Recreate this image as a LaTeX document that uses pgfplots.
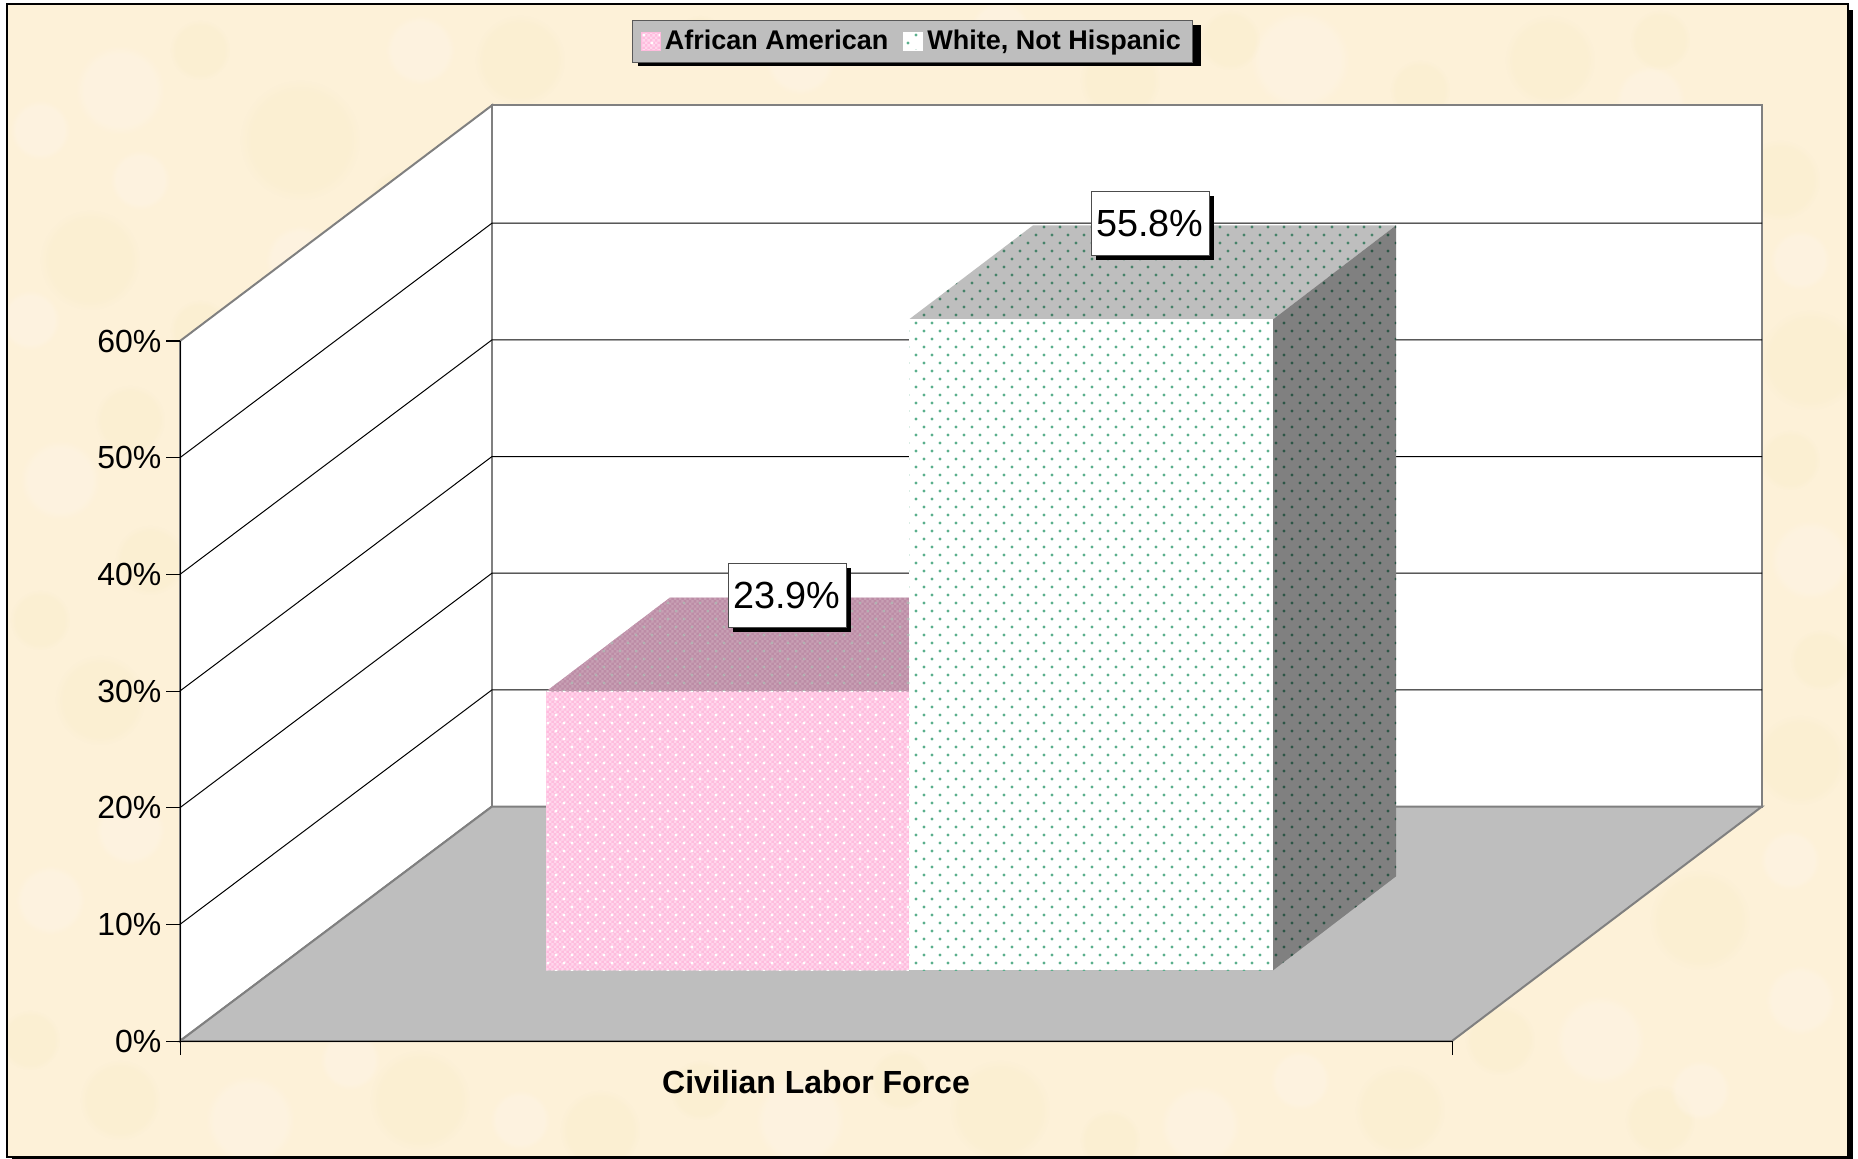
\documentclass[border=0pt]{standalone}
\usepackage{fontspec}
\setmainfont{Liberation Sans}
\usepackage{pgfplots}
\pgfplotsset{compat=1.18}
\usetikzlibrary{patterns,fadings,shadows}
\definecolor{parch}{RGB}{253,241,216}
\definecolor{parchL}{RGB}{255,245,232}
\definecolor{parchD}{RGB}{249,237,203}
\definecolor{pk}{RGB}{255,188,222}
\definecolor{pkL}{RGB}{255,215,236}
\definecolor{pktop}{RGB}{188,140,166}
\definecolor{pktopL}{RGB}{200,160,180}
\definecolor{floorc}{RGB}{190,190,190}
\definecolor{sidec}{RGB}{128,128,128}
\definecolor{edge}{RGB}{128,128,128}
\definecolor{grn}{RGB}{90,175,140}
\definecolor{grntop}{RGB}{70,130,105}
\definecolor{grnside}{RGB}{45,85,70}
\pgfdeclarepatternformonly{stagdots}{\pgfpoint{-1pt}{-1pt}}{\pgfpoint{9pt}{9pt}}{\pgfpoint{8pt}{8pt}}{%
  \pgfpathcircle{\pgfpoint{2pt}{2pt}}{0.85pt}%
  \pgfpathcircle{\pgfpoint{6pt}{6pt}}{0.85pt}%
  \pgfusepath{fill}}
\pgfdeclarepatternformonly{checker}{\pgfpoint{0pt}{0pt}}{\pgfpoint{2.67pt}{2.67pt}}{\pgfpoint{2.67pt}{2.67pt}}{%
  \pgfpathrectangle{\pgfpoint{0pt}{0pt}}{\pgfpoint{1.33pt}{1.33pt}}%
  \pgfpathrectangle{\pgfpoint{1.33pt}{1.33pt}}{\pgfpoint{1.33pt}{1.33pt}}%
  \pgfusepath{fill}}
\begin{document}
\begin{tikzpicture}
\useasboundingbox (0,-579.5pt) rectangle (929pt,0);
\begin{scope}[x=0.5pt,y=-0.5pt]
  \fill[black] (12,10) rectangle (1853,1159);
  \fill[parch] (7,4) rectangle (1848,1157);
  \begin{scope}
    \clip (8,5) rectangle (1847,1156);
    \foreach \x/\y/\r/\c in {
      120/90/45/parchL, 300/140/60/parchD, 520/60/45/parchD, 90/260/50/parchD,
      60/480/40/parchL, 100/700/45/parchD, 50/900/35/parchL, 120/1100/40/parchD,
      250/1120/45/parchL, 420/1100/50/parchD, 600/1130/40/parchD, 800/1120/45/parchL,
      1000/1110/50/parchD, 1200/1125/40/parchL, 1400/1110/45/parchD, 1600/1040/45/parchL,
      1700/920/50/parchD, 1800/760/45/parchD, 1810/560/40/parchL, 1810/360/50/parchD,
      1780/180/40/parchD, 1550/60/45/parchD, 1300/60/50/parchL, 1120/80/40/parchD,
      800/60/35/parchL, 200/50/30/parchD, 1650/100/35/parchL, 40/130/30/parchL,
      130/420/35/parchD, 140/180/30/parchL, 1660/1120/35/parchD, 1500/900/35/parchL,
      30/320/30/parchL, 150/560/35/parchD, 40/620/30/parchD, 130/830/35/parchL,
      30/1040/30/parchD, 350/1060/30/parchL, 520/1120/30/parchL, 700/1090/30/parchD,
      900/1080/30/parchD, 1110/1140/30/parchD, 1300/1080/30/parchL, 1500/1040/35/parchD,
      1700/1090/30/parchL, 1800/1000/35/parchL, 1620/820/35/parchD, 1790/860/30/parchL,
      1820/660/30/parchD, 1790/460/30/parchD, 1800/260/30/parchL, 1660/40/30/parchD,
      1420/90/30/parchD, 1230/40/30/parchD, 1000/30/30/parchL, 700/40/25/parchD,
      420/50/35/parchL, 300/260/35/parchL, 200/330/30/parchD, 400/200/30/parchD}
      \fill[\c,opacity=0.45,path fading=circle with fuzzy edge 20 percent] (\x,\y) circle (\r);
  \end{scope}
  \draw[black,line width=0.6pt] (7,4) rectangle (1848,1157);
  \fill[black] (638,25) rectangle (1201,66);
\end{scope}
\begin{axis}[
  at={(90pt,-520.5pt)},anchor=south west,scale only axis,
  width=636pt,height=350pt,
  xmin=0,xmax=1272,ymin=0,ymax=60,clip=false,axis on top=true,
  axis x line*=bottom,axis y line*=left,
  axis line style={-,black,line width=0.5pt},
  tick align=outside,tick style={black,line width=0.5pt},
  major tick length=7pt,
  xtick={0,1272},xticklabels={,},
  ytick={0,10,20,30,40,50,60},
  yticklabel={\pgfmathprintnumber[assume math mode=true]{\tick}\%},
  yticklabel style={font=\fontsize{16}{18}\selectfont,xshift=1.2pt},
  xlabel={\textbf{Civilian Labor Force}},
  xlabel style={font=\fontsize{16}{19}\selectfont,yshift=2.5pt},
  legend columns=2,
  legend cell align=left,
  legend style={at={(0.5762,1.428)},anchor=center,
    fill=floorc,draw=black!65,line width=0.5pt,
    font=\bfseries\fontsize{13.5}{15}\selectfont,
    /tikz/every even column/.append style={column sep=5.5pt},
    inner xsep=4pt,inner ysep=3pt},
]
\addlegendimage{legend image code/.code={\fill[pk,postaction={pattern=checker,pattern color=pkL},postaction={pattern=stagdots,pattern color=white}] (0pt,-4.7pt) rectangle (9.5pt,4.7pt);}}
\addlegendentry{African American}
\addlegendimage{legend image code/.code={\fill[white,postaction={pattern=stagdots,pattern color=grn}] (0pt,-4.7pt) rectangle (9.5pt,4.7pt);}}
\addlegendentry{White, Not Hispanic}
% walls and floor
\addplot[forget plot,fill=white,draw=edge,line width=1pt] coordinates {(0,0)(312,20.1)(312,80.2)(0,60)} -- cycle;
\addplot[forget plot,fill=white,draw=edge,line width=1pt] coordinates {(312,20.1)(1582,20.1)(1582,80.2)(312,80.2)} -- cycle;
\addplot[forget plot,fill=floorc,draw=edge,line width=1pt] coordinates {(0,0)(312,20.1)(1582,20.1)(1272,0)} -- cycle;
% grid lines
\addplot[forget plot,black,line width=0.5pt] coordinates {(0,10)(312,30.1)(1582,30.1)};
\addplot[forget plot,black,line width=0.5pt] coordinates {(0,20)(312,40.1)(1582,40.1)};
\addplot[forget plot,black,line width=0.5pt] coordinates {(0,30)(312,50.1)(1582,50.1)};
\addplot[forget plot,black,line width=0.5pt] coordinates {(0,40)(312,60.1)(1582,60.1)};
\addplot[forget plot,black,line width=0.5pt] coordinates {(0,50)(312,70.1)(1582,70.1)};
% African American
\addplot[forget plot,yshift=35.3pt,draw=none,fill=pktop,postaction={pattern=checker,pattern color=pktopL},postaction={pattern=stagdots,pattern color=black!30}] coordinates {(366,23.9)(729,23.9)(853,31.96)(490,31.96)} -- cycle;
\addplot[forget plot,yshift=35.3pt,draw=none,fill=pk,postaction={pattern=checker,pattern color=pkL},postaction={pattern=stagdots,pattern color=white}] coordinates {(366,0)(729,0)(729,23.9)(366,23.9)} -- cycle;
% White, Not Hispanic
\addplot[forget plot,yshift=35.3pt,draw=none,fill=floorc,postaction={pattern=stagdots,pattern color=grntop}] coordinates {(729,55.8)(1093,55.8)(1216,63.86)(853,63.86)} -- cycle;
\addplot[forget plot,yshift=35.3pt,draw=none,fill=sidec,postaction={pattern=stagdots,pattern color=grnside}] coordinates {(1093,0)(1216,8.06)(1216,63.86)(1093,55.8)} -- cycle;
\addplot[forget plot,yshift=35.3pt,draw=none,fill=white,postaction={pattern=stagdots,pattern color=grn}] coordinates {(729,0)(1093,0)(1093,55.8)(729,55.8)} -- cycle;
% data labels
\tikzset{lbl/.style={fill=white,draw=black!70,line width=0.5pt,font=\fontsize{18.9}{22}\selectfont,
  minimum width=59pt,minimum height=32pt,inner sep=0pt,
  copy shadow={shadow xshift=2.5pt,shadow yshift=-2.5pt,fill=black,draw=none}}}
\node[lbl] at (axis cs:607,38.2) {23.9\%};
\node[lbl] at (axis cs:970,70.1) {55.8\%};
\end{axis}
\end{tikzpicture}
\end{document}
